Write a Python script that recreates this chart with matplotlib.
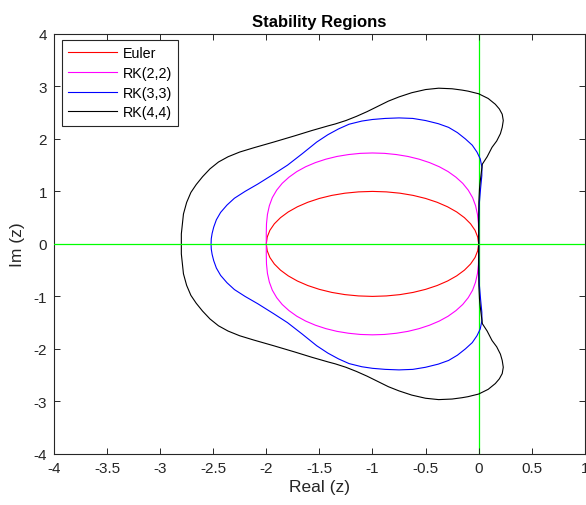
import matplotlib
matplotlib.use("Agg")
import matplotlib.pyplot as plt

plt.rcParams['font.family'] = ['Liberation Sans', 'DejaVu Sans']
plt.rcParams['axes.unicode_minus'] = False

# boundary points (upper half, then lower half)
euler_x = [0, -0.009, -0.034, -0.076, -0.134, -0.207, -0.293, -0.391, -0.5, -0.617, -0.741, -0.869, -1.0,
           -1.131, -1.259, -1.383, -1.5, -1.609, -1.707, -1.793, -1.866, -1.924, -1.966, -1.991, -2.0,
           -1.991, -1.966, -1.924, -1.866, -1.793, -1.707, -1.609, -1.5, -1.383, -1.259, -1.131, -1.0,
           -0.869, -0.741, -0.617, -0.5, -0.391, -0.293, -0.207, -0.134, -0.076, -0.034, -0.009, 0]
euler_y = [0, 0.131, 0.259, 0.383, 0.5, 0.609, 0.707, 0.793, 0.866, 0.924, 0.966, 0.991, 1.0,
           0.991, 0.966, 0.924, 0.866, 0.793, 0.707, 0.609, 0.5, 0.383, 0.259, 0.131, 0,
           -0.131, -0.259, -0.383, -0.5, -0.609, -0.707, -0.793, -0.866, -0.924, -0.966, -0.991, -1.0,
           -0.991, -0.966, -0.924, -0.866, -0.793, -0.707, -0.609, -0.5, -0.383, -0.259, -0.131, 0]

rk2_x = [0, 0.0, -0.002, -0.011, -0.029, -0.057, -0.098, -0.150, -0.214, -0.288, -0.371, -0.463, -0.561,
         -0.666, -0.775, -0.887, -1.0, -1.113, -1.225, -1.334, -1.439, -1.537, -1.629, -1.712, -1.786,
         -1.850, -1.902, -1.943, -1.971, -1.989, -1.998, -2.0, -2.0,
         -2.0, -1.998, -1.989, -1.971, -1.943, -1.902, -1.850, -1.786, -1.712, -1.629, -1.537, -1.439,
         -1.334, -1.225, -1.113, -1.0, -0.887, -0.775, -0.666, -0.561, -0.463, -0.371, -0.288, -0.214,
         -0.150, -0.098, -0.057, -0.029, -0.011, -0.002, 0.0, 0]
rk2_y = [0, 0.195, 0.384, 0.562, 0.728, 0.882, 1.024, 1.154, 1.271, 1.378, 1.470, 1.549, 1.614,
         1.666, 1.702, 1.725, 1.732, 1.725, 1.702, 1.666, 1.614, 1.549, 1.470, 1.378, 1.271,
         1.154, 1.024, 0.882, 0.728, 0.562, 0.384, 0.195, 0,
         -0.195, -0.384, -0.562, -0.728, -0.882, -1.024, -1.154, -1.271, -1.378, -1.470, -1.549, -1.614,
         -1.666, -1.702, -1.725, -1.732, -1.725, -1.702, -1.666, -1.614, -1.549, -1.470, -1.378, -1.271,
         -1.154, -1.024, -0.882, -0.728, -0.562, -0.384, -0.195, 0]

rk3_x = [0.0, 0.001, 0.006, 0.018, 0.03, 0.031, 0.015, -0.016, -0.06, -0.125, -0.2, -0.283, -0.38, -0.5,
         -0.62, -0.75, -0.88, -1.0, -1.10, -1.22, -1.32, -1.42, -1.525, -1.66, -1.8, -1.93, -2.08, -2.2,
         -2.30, -2.37, -2.43, -2.47, -2.495, -2.51, -2.518, -2.52,
         -2.518, -2.51, -2.495, -2.47, -2.43, -2.37, -2.30, -2.2, -2.08, -1.93, -1.8, -1.66, -1.525, -1.42,
         -1.32, -1.22, -1.10, -1.0, -0.88, -0.75, -0.62, -0.5, -0.38, -0.283, -0.2, -0.125, -0.06, -0.016,
         0.015, 0.031, 0.03, 0.018, 0.006, 0.001, 0.0]
rk3_y = [0.0, 0.38, 0.76, 1.05, 1.3, 1.46, 1.62, 1.75, 1.88, 2.0, 2.12, 2.22, 2.29, 2.35,
         2.39, 2.40, 2.39, 2.37, 2.34, 2.28, 2.19, 2.08, 1.94, 1.72, 1.50, 1.33, 1.14, 1.0,
         0.87, 0.74, 0.6, 0.46, 0.32, 0.2, 0.1, 0.0,
         -0.1, -0.2, -0.32, -0.46, -0.6, -0.74, -0.87, -1.0, -1.14, -1.33, -1.50, -1.72, -1.94, -2.08,
         -2.19, -2.28, -2.34, -2.37, -2.39, -2.40, -2.39, -2.35, -2.29, -2.22, -2.12, -2.0, -1.88, -1.75,
         -1.62, -1.46, -1.3, -1.05, -0.76, -0.38, 0.0]

rk4_x = [0, 0.0, 0.002, 0.008, 0.016, 0.035, 0.08, 0.126, 0.17, 0.205, 0.222, 0.232, 0.222, 0.195,
         0.157, 0.09, 0.0, -0.1, -0.157, -0.25, -0.377, -0.5, -0.63, -0.75, -0.85, -0.97, -1.05, -1.15,
         -1.25, -1.35, -1.415, -1.57, -1.73, -1.93, -2.12, -2.25, -2.36, -2.45, -2.53, -2.60, -2.66,
         -2.71, -2.75, -2.78, -2.79, -2.80, -2.80,
         -2.80, -2.79, -2.78, -2.75, -2.71, -2.66, -2.60, -2.53, -2.45, -2.36, -2.25, -2.12, -1.93, -1.73,
         -1.57, -1.415, -1.35, -1.25, -1.15, -1.05, -0.97, -0.85, -0.75, -0.63, -0.5, -0.377, -0.25,
         -0.157, -0.1, 0.0, 0.09, 0.157, 0.195, 0.222, 0.232, 0.222, 0.205, 0.17, 0.126, 0.08, 0.035,
         0.016, 0.008, 0.002, 0.0, 0]
rk4_y = [0, 0.4, 0.8, 1.05, 1.21, 1.52, 1.66, 1.84, 1.96, 2.10, 2.22, 2.35, 2.47, 2.57,
         2.66, 2.77, 2.86, 2.91, 2.93, 2.955, 2.966, 2.94, 2.88, 2.80, 2.72, 2.60, 2.52, 2.43,
         2.35, 2.285, 2.25, 2.16, 2.06, 1.94, 1.83, 1.75, 1.66, 1.56, 1.43, 1.28, 1.13,
         0.98, 0.79, 0.57, 0.38, 0.19, 0,
         -0.19, -0.38, -0.57, -0.79, -0.98, -1.13, -1.28, -1.43, -1.56, -1.66, -1.75, -1.83, -1.94, -2.06,
         -2.16, -2.25, -2.285, -2.35, -2.43, -2.52, -2.60, -2.72, -2.80, -2.88, -2.94, -2.966, -2.955,
         -2.93, -2.91, -2.86, -2.77, -2.66, -2.57, -2.47, -2.35, -2.22, -2.10, -1.96, -1.84, -1.66, -1.52,
         -1.21, -1.05, -0.8, -0.4, 0]

x_ticks = [-4, -3.5, -3, -2.5, -2, -1.5, -1, -0.5, 0, 0.5, 1]
x_tick_labels = ['-4', '-3.5', '-3', '-2.5', '-2', '-1.5', '-1', '-0.5', '0', '0.5', '1']
y_ticks = [-4, -3, -2, -1, 0, 1, 2, 3, 4]
y_tick_labels = ['-4', '-3', '-2', '-1', '0', '1', '2', '3', '4']

dark = '#262626'

fig = plt.figure(figsize=(5.86, 5.06), dpi=100)
ax = fig.add_axes([0.092, 0.101, 0.906, 0.830])

# green coordinate axes
ax.plot([0, 0], [-4, 4], color='#00ff00', lw=0.9, zorder=1)
ax.plot(euler_x, euler_y, color='#ff0000', lw=0.8, label='Euler', zorder=2)
ax.plot(rk2_x, rk2_y, color='#ff00ff', lw=0.8, label='RK(2,2)', zorder=2)
ax.plot(rk3_x, rk3_y, color='#0000ff', lw=0.8, label='RK(3,3)', zorder=2)
ax.plot(rk4_x, rk4_y, color='#000000', lw=0.8, label='RK(4,4)', zorder=2)
ax.plot([-4, 1], [0, 0], color='#00ff00', lw=0.9, zorder=3)

ax.set_xlim(-4, 1)
ax.set_ylim(-4, 4)
ax.set_xticks(x_ticks)
ax.set_xticklabels(x_tick_labels)
ax.set_yticks(y_ticks)
ax.set_yticklabels(y_tick_labels)
ax.tick_params(direction='in', top=True, right=True, length=4, width=0.7,
               colors=dark, labelsize=11, pad=5)
for sp in ax.spines.values():
    sp.set_color(dark)
    sp.set_linewidth(0.8)

ax.set_title('Stability Regions', fontsize=12, fontweight='bold', pad=6)
ax.set_xlabel('Real (z)', fontsize=12.5, color=dark, labelpad=3)
ax.set_ylabel('Im (z)', fontsize=12.5, color=dark, labelpad=6)

leg = ax.legend(loc='upper left', bbox_to_anchor=(0.015, 0.986), fontsize=10.3,
                fancybox=False, framealpha=1, edgecolor=dark, handlelength=3.4,
                handletextpad=0.4, borderpad=0.45, labelspacing=0.4, borderaxespad=0)
leg.get_frame().set_linewidth(0.8)

fig.savefig('out.png', dpi=100)
